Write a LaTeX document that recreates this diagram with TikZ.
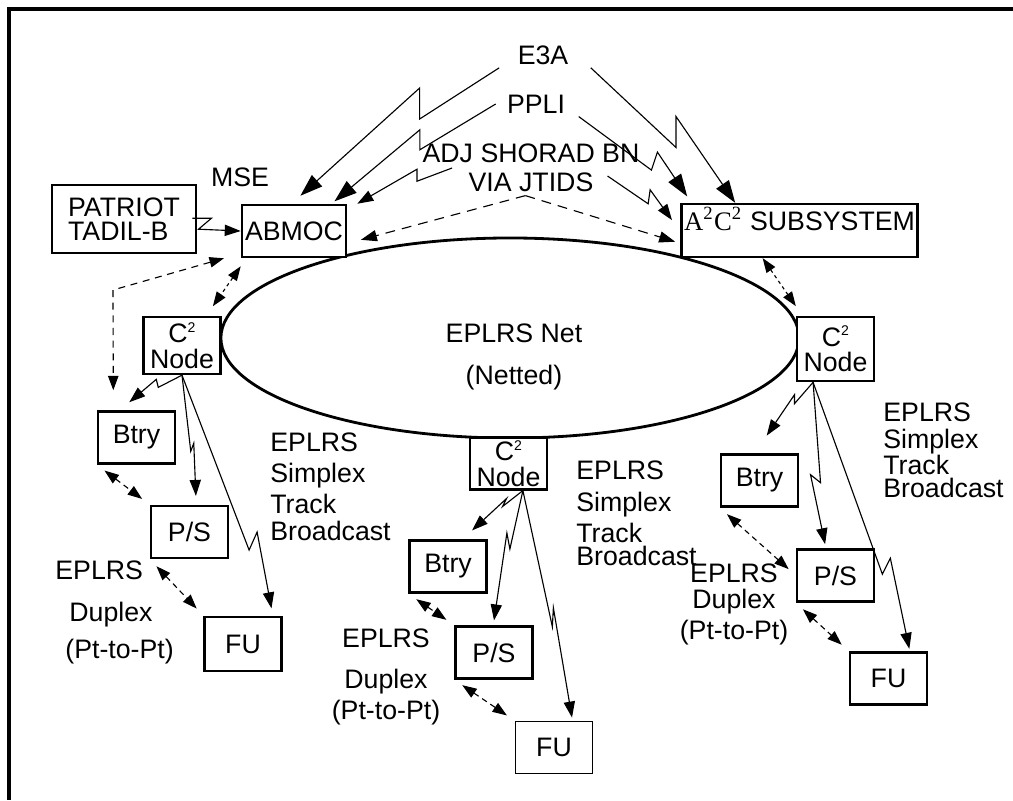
\documentclass[tikz,border=0pt]{standalone}
\usepackage{fontspec}
\setmainfont{Liberation Sans}
\newfontfamily\timesfont{Liberation Serif}
\usetikzlibrary{arrows.meta,calc,shapes.geometric}

\tikzstyle{box} = [rectangle, draw, line width=0.9pt, fill=white, inner sep=1pt]
\tikzstyle{unit} = [box, minimum width=0.96cm, minimum height=0.65cm]
\tikzstyle{ctwo} = [box, minimum width=0.96cm, minimum height=0.71cm, align=center]
\tikzstyle{note} = [inner sep=1pt]
\tikzstyle{link} = [line width=0.4pt]
\tikzstyle{arr} = [link, -{Triangle[length=0.2cm,width=0.14cm]}]
\tikzstyle{bigarr} = [link, -{Triangle[length=0.28cm,width=0.19cm]}]
\tikzstyle{jlink} = [arr, dash pattern=on 3.5pt off 2.5pt]
\tikzstyle{dlink} = [link, dash pattern=on 1.2pt off 1.2pt, {Triangle[length=0.18cm,width=0.13cm]}-{Triangle[length=0.18cm,width=0.13cm]}]
\tikzstyle{duplex} = [dlink, dash pattern=on 2pt off 1.5pt, shorten <=0.12cm, shorten >=0.12cm]
\tikzset{bolt/.style 2 args={to path={-- ($(\tikztostart)!#1!(\tikztotarget)$) -- ++(#2) -- (\tikztotarget)}}}
\newcommand{\ctwotext}{C\raisebox{0.75ex}{\fontsize{5}{5}\selectfont 2}\\[-1.5pt]Node}

\begin{document}
\begin{tikzpicture}[x=0.0125cm, y=-0.0125cm, font=\fontsize{9.5}{10.5}\selectfont]
    \useasboundingbox (0,0) rectangle (1013,800);
    \draw[line width=1.1pt] (1013,9) -- (9,9) -- (9,800);
    % Nodes
    \node[draw, ellipse, line width=1pt, minimum width=7.225cm, minimum height=2.5cm, inner sep=0pt] (net) at (510,338) {};
    \node[note, align=center] (netlbl) at (514,357) {EPLRS Net\\[4.4pt](Netted)};
    \node[note] (e3a) at (543,55) {E3A};
    \node[note] (ppli) at (536,104) {PPLI};
    \node[note, align=center] (adj) at (531,168) {ADJ SHORAD BN\\VIA JTIDS};
    \node[note] (mse) at (240,177) {MSE};
    \node[box, minimum width=1.8cm, minimum height=0.85cm, align=left] (patriot) at (124,219) {PATRIOT\\[-2pt]TADIL-B};
    \node[box, minimum width=1.3cm, minimum height=0.65cm] (abmoc) at (294,231) {ABMOC};
    \node[box, minimum width=2.91cm, minimum height=0.66cm, text height=0.26cm, text depth=0.26cm] (a2c2) at (799.5,230.5) {{\timesfont A\textsuperscript{2}C\textsuperscript{2}} SUBSYSTEM};
    \node[ctwo] (lc2) at (182,345.5) {\ctwotext};
    \node[ctwo, minimum height=0.64cm] (mc2) at (508.5,463.5) {\ctwotext};
    \node[ctwo, minimum height=0.8cm] (rc2) at (835.5,349) {\ctwotext};
    \node[unit] (lbtry) at (136.5,437.5) {Btry};
    \node[unit] (lps) at (189.5,532) {P/S};
    \node[unit, minimum height=0.68cm] (lfu) at (243,644) {FU};
    \node[unit] (mbtry) at (448,566.5) {Btry};
    \node[unit] (mps) at (494,652.5) {P/S};
    \node[unit, line width=0.5pt] (mfu) at (554,747.5) {FU};
    \node[unit] (rbtry) at (759.5,480.5) {Btry};
    \node[unit] (rps) at (835.5,575.5) {P/S};
    \node[unit] (rfu) at (888.5,678.5) {FU};
    \coordinate (lbend) at (113,290);
    % Edges
    \draw[bigarr] ([xshift=-0.19cm]e3a.south west) to[bolt={0.4}{0,-31}] ([xshift=0.08cm,yshift=0.1cm]abmoc.north);
    \draw[bigarr] ([xshift=-0.1cm]ppli.west) to[bolt={0.47}{0,-20}] ([xshift=-0.16cm,yshift=0.03cm]abmoc.north east);
    \draw[arr] ([xshift=0.41cm]adj.west) to[bolt={0.37}{0,-12}] ([xshift=0.125cm]abmoc.north east);
    \draw[bigarr] ([xshift=0.24cm]e3a.south east) to[bolt={0.59}{0,-31}] ([xshift=0.69cm]a2c2.north west);
    \draw[bigarr] ([xshift=0.13cm]ppli.south east) to[bolt={0.67}{6,-18}] ([xshift=0.09cm,yshift=0.08cm]a2c2.north west);
    \draw[arr] ([xshift=-0.44cm,yshift=-0.1cm]adj.east) to[bolt={0.63}{2,-14}] ([xshift=-0.1cm,yshift=0.13cm]a2c2.west);
    \draw[jlink] ([xshift=-0.07cm]adj.south) -- ([xshift=0.17cm,yshift=-0.11cm]abmoc.east);
    \draw[jlink] ([xshift=-0.07cm]adj.south) -- ([xshift=-0.06cm,yshift=-0.14cm]a2c2.west);
    \draw[arr] ([xshift=-0.06cm,yshift=0.01cm]patriot.east) -- ++(19,0) -- ++(-13,11) -- (abmoc.west);
    \draw[dlink, dash pattern=on 2.5pt off 2pt] ([xshift=-0.21cm]abmoc.south west) -- (lbend) -- ([xshift=-0.29cm,yshift=0.25cm]lbtry.north);
    \draw[dlink] ([yshift=-0.1cm]abmoc.south west) -- ([xshift=-0.11cm,yshift=0.12cm]lc2.north east);
    \draw[dlink] ([xshift=-0.46cm]a2c2.south) -- ([yshift=0.12cm]rc2.north west);
    \draw[arr] (lc2.south) to[bolt={0.45}{-2,-8}] ([xshift=-0.09cm,yshift=0.1cm]lbtry.north);
    \draw[arr] (lc2.south) to[bolt={0.63}{3,-8}] ([xshift=0.08cm,yshift=0.11cm]lps.north);
    \draw[arr] (lc2.south) to[bolt={0.75}{8,-18}] ([xshift=-0.14cm,yshift=0.09cm]lfu.north east);
    \draw[arr] ([xshift=0.18cm]mc2.south) to[bolt={0.4}{4,-8}] ([xshift=0.3cm,yshift=0.11cm]mbtry.north);
    \draw[arr] ([xshift=0.18cm]mc2.south) to[bolt={0.45}{-3,-16}] ([yshift=0.06cm]mps.north);
    \draw[arr] ([xshift=0.18cm]mc2.south) to[bolt={0.6}{1,-19}] ([xshift=0.225cm,yshift=0.04cm]mfu.north);
    \draw[arr] ([xshift=-0.28cm]rc2.south) to[bolt={0.4}{0,-9}] ([xshift=0.09cm,yshift=0.22cm]rbtry.north);
    \draw[arr] ([xshift=-0.28cm]rc2.south) to[bolt={0.62}{-10,-8}] ([xshift=-0.13cm,yshift=0.05cm]rps.north);
    \draw[arr] ([xshift=-0.28cm]rc2.south) to[bolt={0.72}{8,-16}] ([xshift=0.26cm,yshift=0.03cm]rfu.north);
    \draw[duplex] (lbtry.south west) -- (lps.north west);
    \draw[duplex] (lps.south west) -- (lfu.north west);
    \draw[duplex] (mbtry.south west) -- (mps.north west);
    \draw[duplex] (mps.south west) -- (mfu.north west);
    \draw[duplex] (rbtry.south west) -- (rps.west);
    \draw[duplex] (rps.south west) -- (rfu.north west);
    % Annotations
    \node[note, align=left, anchor=west] (lsimplex) at (267,487) {EPLRS\\[0.5pt]Simplex\\[0.5pt]Track\\[-1pt]Broadcast};
    \node[note, align=left, anchor=west] (msimplex) at (573,513) {EPLRS\\[1pt]Simplex\\[0.5pt]Track\\[-2.3pt]Broadcast};
    \node[note, align=left, anchor=west] (rsimplex) at (880,450.5) {EPLRS\\[-1pt]Simplex\\[-1.3pt]Track\\[-2pt]Broadcast};
    \node[note, align=left, anchor=west] (lduplex) at (52,612.5) {EPLRS\\[4.5pt]\hspace*{0.175cm}Duplex\\[2.5pt]\hspace*{0.125cm}(Pt-to-Pt)};
    \node[note, align=center] (mduplex) at (386,677) {EPLRS\\[4pt]Duplex\\[0.8pt](Pt-to-Pt)};
    \node[note, align=center] (rduplex) at (734,604.5) {EPLRS\\[-1.3pt]Duplex\\[0.5pt](Pt-to-Pt)};
\end{tikzpicture}
\end{document}
